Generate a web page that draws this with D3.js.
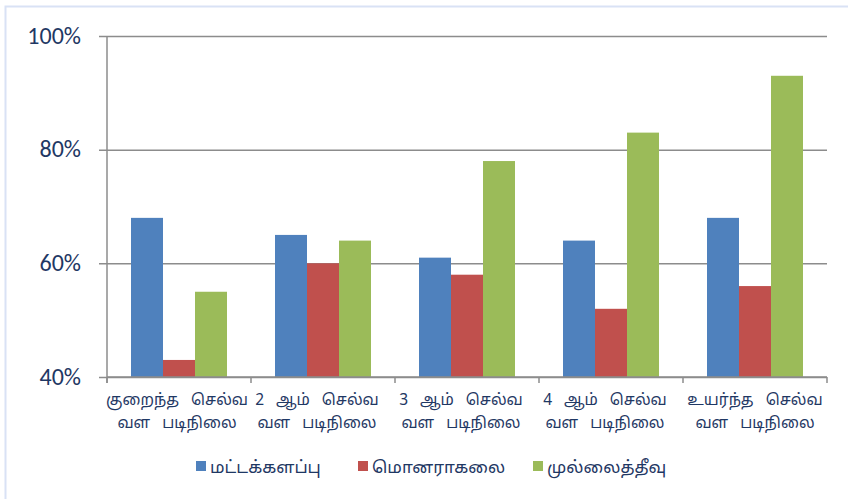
<!DOCTYPE html>
<html>
<head>
<meta charset="utf-8">
<script src="https://cdn.jsdelivr.net/npm/d3@7"></script>
<style>
  body { margin: 0; background: #fff; }
  svg { display: block; font-family: "Noto Sans Tamil", "Latha", "Lohit Tamil", "Noto Sans", sans-serif; }
  .xl { white-space: pre; }
</style>
</head>
<body>
<svg id="chart" width="848" height="499"></svg>
<script>
// data (middle labels carry a trailing space, as in the source)
var categories = [
    ["குறைந்த செல்வ", "வள படிநிலை"],
    ["2 ஆம் செல்வ ", "வள படிநிலை "],
    ["3 ஆம் செல்வ ", "வள படிநிலை "],
    ["4 ஆம் செல்வ ", "வள படிநிலை "],
    ["உயர்ந்த செல்வ", "வள படிநிலை"]
];
var seriesNames = ["மட்டக்களப்பு", "மொனராகலை", "முல்லைத்தீவு"];
var batticaloa = [68, 65, 61, 64, 68];
var monaragala = [43, 60, 58, 52, 56];
var mullaitivu = [55, 64, 78, 83, 93];
var yTicks = [40, 60, 80, 100];

var colors = ["#4F81BD", "#C0504D", "#9BBB59"];
var textColor = "#1F3864";

var margin = { top: 36, right: 21, bottom: 122, left: 107 };
var svg = d3.select("#chart");
var width = 848 - margin.left - margin.right;
var height = 499 - margin.top - margin.bottom;

// light frame of the chart area
svg.append("path")
    .attr("d", "M5.5,499 V6.5 H848")
    .attr("fill", "none")
    .attr("stroke", "#D9E2F5")
    .attr("stroke-width", 2);

var g = svg.append("g").attr("transform", "translate(" + margin.left + "," + margin.top + ")");

var idx = d3.range(categories.length);
var x = d3.scaleBand().domain(idx).range([0, width]).paddingInner(0).paddingOuter(0);
var x1 = d3.scaleBand().domain(d3.range(seriesNames.length))
    .range([0, x.bandwidth()]).paddingOuter(0.75).paddingInner(0);
var y = d3.scaleLinear().domain([40, 100]).range([height, 0]);

// gridlines + y axis
var yAxis = g.append("g")
    .call(d3.axisLeft(y).tickValues(yTicks).tickSize(-width).tickFormat(function (d) { return d + "%"; }));
yAxis.select(".domain").remove();
yAxis.selectAll(".tick line").attr("stroke", "#8C8C8C").attr("stroke-width", 1.5).attr("x1", -8);
yAxis.selectAll(".tick text")
    .attr("x", -26)
    .attr("dy", "0.3em")
    .attr("fill", textColor)
    .attr("font-size", 24)
    .attr("font-family", "Carlito, Lato, 'Open Sans', sans-serif");

g.append("line")
    .attr("x1", 0).attr("x2", 0).attr("y1", 0).attr("y2", height + 6)
    .attr("stroke", "#8C8C8C").attr("stroke-width", 1.5);

var series = [batticaloa, monaragala, mullaitivu];
series.forEach(function (vals, s) {
    g.selectAll(".bar" + s)
        .data(vals)
        .enter()
        .append("rect")
        .attr("class", "bar" + s)
        .attr("x", function (d, i) { return x(i) + x1(s); })
        .attr("y", function (d) { return y(d); })
        .attr("width", x1.bandwidth())
        .attr("height", function (d) { return height - y(d); })
        .attr("fill", colors[s]);
});

// x axis
var xAxis = g.append("g")
    .attr("transform", "translate(0," + height + ")");
xAxis.append("line")
    .attr("x1", 0).attr("x2", width)
    .attr("stroke", "#8C8C8C").attr("stroke-width", 1.5);
xAxis.selectAll(".xt")
    .data(d3.range(categories.length + 1))
    .enter()
    .append("line")
    .attr("x1", function (d) { return d * x.bandwidth(); })
    .attr("x2", function (d) { return d * x.bandwidth(); })
    .attr("y1", 0).attr("y2", 6)
    .attr("stroke", "#8C8C8C").attr("stroke-width", 1.5);

var labels = xAxis.selectAll(".xl")
    .data(categories)
    .enter()
    .append("text")
    .attr("class", "xl")
    .attr("text-anchor", "middle")
    .attr("fill", textColor)
    .attr("font-size", 15.5)
    .attr("word-spacing", 8)
    .attr("transform", function (d, i) { return "translate(" + (x(i) + x.bandwidth() / 2 - (i === 0 ? 2 : 0)) + ",0)"; });
labels.selectAll("tspan")
    .data(function (d) { return d; })
    .enter()
    .append("tspan")
    .attr("x", 0)
    .attr("y", function (d, j) { return 28 + j * 23; })
    .text(function (d) { return d; });

// legend
var legendX = [196, 358, 533];
var legend = svg.append("g").attr("transform", "translate(0,466)");
seriesNames.forEach(function (name, s) {
    legend.append("rect")
        .attr("x", legendX[s]).attr("y", -5)
        .attr("width", 10).attr("height", 10)
        .attr("fill", colors[s]);
    legend.append("text")
        .attr("x", legendX[s] + 14).attr("y", 7)
        .attr("fill", textColor)
        .attr("font-size", 17)
        .text(name);
});
</script>
</body>
</html>
